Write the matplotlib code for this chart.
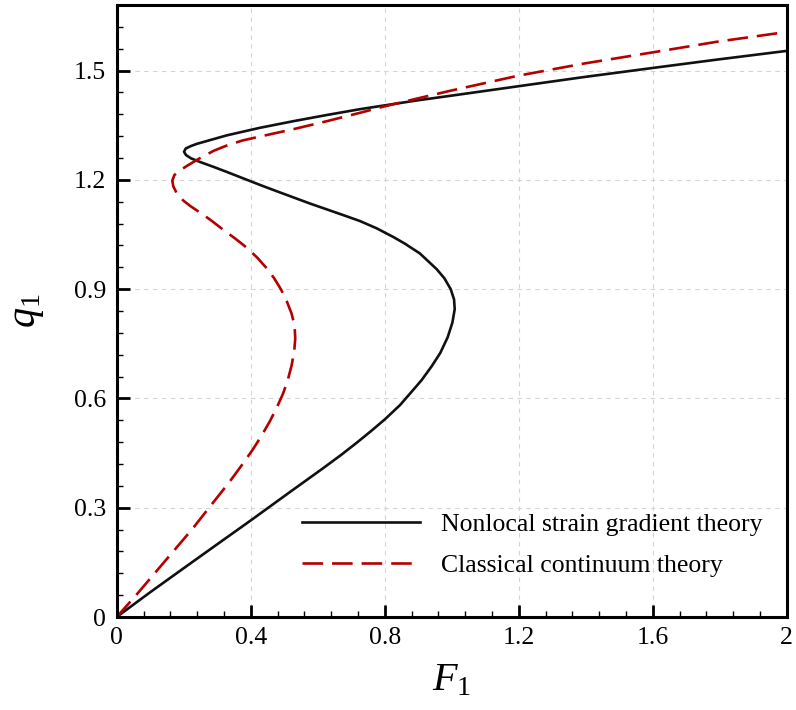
import matplotlib
matplotlib.use("Agg")
import matplotlib.pyplot as plt
from matplotlib.ticker import MultipleLocator

plt.rcParams['font.family'] = ['Liberation Serif', 'DejaVu Serif']
plt.rcParams['mathtext.fontset'] = 'custom'
plt.rcParams['mathtext.rm'] = 'Liberation Serif'
plt.rcParams['mathtext.it'] = 'Liberation Serif:italic'

# Nonlocal strain gradient theory (F1, q1)
nsg_F = [0.000, 0.097, 0.197, 0.296, 0.400, 0.517, 0.617, 0.670, 0.716, 0.760,
         0.801, 0.846, 0.880, 0.910, 0.940, 0.966, 0.988, 1.002, 1.009, 1.007,
         0.997, 0.978, 0.955, 0.905, 0.860, 0.826, 0.776, 0.726, 0.677, 0.627,
         0.577, 0.527, 0.477, 0.428, 0.378, 0.328, 0.288, 0.249, 0.222, 0.207,
         0.201, 0.206, 0.222, 0.240, 0.259, 0.328, 0.428, 0.527, 0.627, 0.726,
         0.896, 0.998, 1.199, 1.393, 1.607, 1.791, 2.000]
nsg_q = [0.000, 0.066, 0.132, 0.197, 0.265, 0.343, 0.409, 0.445, 0.478, 0.511,
         0.543, 0.582, 0.618, 0.650, 0.688, 0.725, 0.768, 0.808, 0.845, 0.872,
         0.900, 0.930, 0.955, 0.998, 1.025, 1.043, 1.067, 1.087, 1.103, 1.119,
         1.135, 1.152, 1.169, 1.186, 1.204, 1.222, 1.236, 1.249, 1.259, 1.268,
         1.277, 1.286, 1.293, 1.299, 1.304, 1.322, 1.343, 1.361, 1.378, 1.394,
         1.418, 1.431, 1.457, 1.482, 1.508, 1.530, 1.554]

# Classical continuum theory (F1, q1)
cct_F = [0.000, 0.058, 0.117, 0.227, 0.280, 0.336, 0.376, 0.405, 0.432, 0.457,
         0.478, 0.496, 0.510, 0.522, 0.530, 0.533, 0.531, 0.522, 0.508, 0.490,
         0.470, 0.448, 0.420, 0.388, 0.355, 0.318, 0.280, 0.249, 0.220, 0.199,
         0.180, 0.169, 0.166, 0.172, 0.186, 0.209, 0.249, 0.290, 0.328, 0.375,
         0.428, 0.527, 0.627, 0.726, 0.796, 0.896, 0.998, 1.199, 1.393, 1.607,
         1.791, 2.000]
cct_q = [0.000, 0.060, 0.124, 0.243, 0.305, 0.370, 0.420, 0.458, 0.497, 0.537,
         0.575, 0.612, 0.648, 0.690, 0.730, 0.765, 0.800, 0.833, 0.866, 0.900,
         0.930, 0.957, 0.986, 1.014, 1.038, 1.063, 1.090, 1.110, 1.128, 1.143,
         1.162, 1.182, 1.198, 1.213, 1.224, 1.238, 1.260, 1.280, 1.294, 1.308,
         1.319, 1.339, 1.361, 1.384, 1.401, 1.423, 1.445, 1.486, 1.519, 1.551,
         1.579, 1.606]

x_ticks = [0, 0.4, 0.8, 1.2, 1.6, 2.0]
x_labels = ['0', '0.4', '0.8', '1.2', '1.6', '2']
y_ticks = [0, 0.3, 0.6, 0.9, 1.2, 1.5]
y_labels = ['0', '0.3', '0.6', '0.9', '1.2', '1.5']

fig = plt.figure(figsize=(7.96, 7.10), dpi=100)
ax = fig.add_axes([116.7 / 796, 93 / 710, 670 / 796, 612 / 710])

ax.plot(nsg_F, nsg_q, color='#111111', lw=1.9, label='Nonlocal strain gradient theory',
        solid_joinstyle='round')
ax.plot(cct_F, cct_q, color='#b50000', lw=1.9, dashes=(7.8, 3.4),
        label='Classical continuum theory')

ax.set_xlim(0, 2)
ax.set_ylim(0, 1.68)
ax.set_xticks(x_ticks)
ax.set_xticklabels(x_labels)
ax.set_yticks(y_ticks)
ax.set_yticklabels(y_labels)
ax.xaxis.set_minor_locator(MultipleLocator(0.08))
ax.yaxis.set_minor_locator(MultipleLocator(0.06))

ax.tick_params(which='both', direction='in', top=False, right=False, labelsize=18.5)
ax.tick_params(which='major', length=9, width=2, pad=7.5)
ax.tick_params(which='minor', length=4, width=1)

for s in ax.spines.values():
    s.set_linewidth(2.2)

ax.grid(True, which='major', color='#d4d4d4', lw=0.8, dashes=(4, 4))
ax.set_axisbelow(True)

ax.set_xlabel(r'$F_1$', fontsize=29, labelpad=9)
ax.set_ylabel(r'$q_1$', fontsize=29, labelpad=20)

ax.legend(loc='upper left', bbox_to_anchor=(301.7 / 796, (710 - 513) / 710),
          bbox_transform=fig.transFigure, frameon=False, fontsize=18.5,
          handlelength=4.6, handletextpad=0.82, labelspacing=0.72,
          borderpad=0, borderaxespad=0)

fig.savefig('out.png', dpi=100)
